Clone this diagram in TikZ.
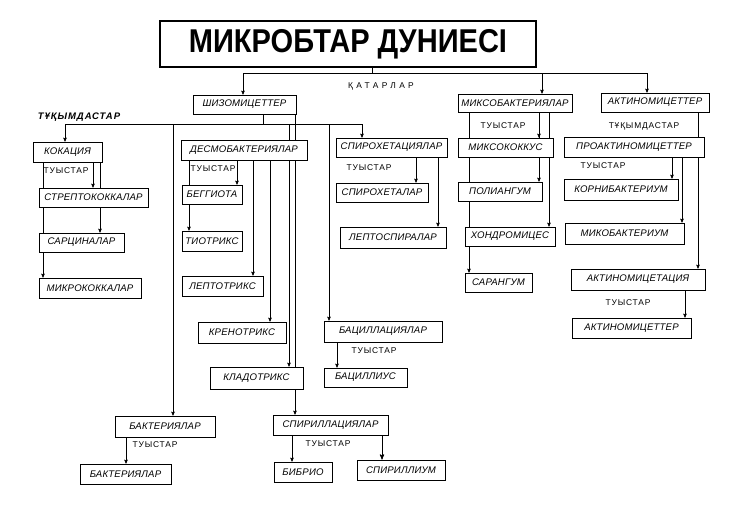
\documentclass[tikz,border=0pt]{standalone}
\usepackage{graphicx}
\usepackage{fontspec}
\setmainfont{Liberation Sans}
\newfontfamily\boxfont[LetterSpace=2]{Liberation Sans}
\newfontfamily\labfont[LetterSpace=10]{Liberation Sans}
\newfontfamily\wordfont[LetterSpace=40]{Liberation Sans}
\usepackage{tikz}
\usetikzlibrary{arrows}
\pgfdeclarelayer{bg}
\pgfsetlayers{bg,main}
\tikzset{
  box/.style={draw, line width=0.8pt, fill=white, inner sep=0pt, font=\boxfont\itshape\fontsize{9.6}{9.6}\selectfont},
  kind/.style={inner sep=0pt, font=\labfont\fontsize{8.4}{8.4}\selectfont},
  link/.style={line width=0.5pt},
}

\begin{document}
\begin{tikzpicture}[x=1pt, y=-1pt, >=stealth']
    \useasboundingbox (0,0) rectangle (741,509);
    % Titre
    \node[draw, line width=1.6pt, minimum width=376pt, minimum height=46pt, inner sep=0pt,
          font=\bfseries\fontsize{33}{33}\selectfont] (title) at (348,44) {\scalebox{0.88}[1]{МИКРОБТАР ДУНИЕСІ}};
    \node[inner sep=0pt, font=\wordfont\fontsize{8.4}{8.4}\selectfont] (orders) at (381,86) {ҚАТАРЛАР};
    % Катарлар
    \node[box, minimum width=103pt, minimum height=19pt] (shizo) at (244.5,104.5) {ШИЗОМИЦЕТТЕР};
    \node[box, minimum width=114pt, minimum height=18pt] (mikso) at (515,103) {МИКСОБАКТЕРИЯЛАР};
    \node[box, minimum width=108pt, minimum height=19pt] (aktino) at (655,102.5) {АКТИНОМИЦЕТТЕР};
    \node[inner sep=0pt, font=\labfont\bfseries\itshape\fontsize{9.5}{9.5}\selectfont] (fam) at (79,117) {ТҰҚЫМДАСТАР};
    % Кокация
    \node[box, minimum width=69pt, minimum height=20pt] (kok) at (67.5,152) {КОКАЦИЯ};
    \node[kind] (tkok) at (66,171) {ТУЫСТАР};
    \node[box, minimum width=109pt, minimum height=19pt] (strep) at (93.5,197.5) {СТРЕПТОКОККАЛАР};
    \node[box, minimum width=85pt, minimum height=19pt] (sarc) at (81.5,242.5) {САРЦИНАЛАР};
    \node[box, minimum width=102pt, minimum height=20pt] (mikrok) at (90,288) {МИКРОКОККАЛАР};
    % Десмобактериялар
    \node[box, minimum width=126pt, minimum height=20pt] (desmo) at (244,150) {ДЕСМОБАКТЕРИЯЛАР};
    \node[kind] (tdesmo) at (213,169) {ТУЫСТАР};
    \node[box, minimum width=60pt, minimum height=19pt] (beggi) at (212,194.5) {БЕГГИОТА};
    \node[box, minimum width=60pt, minimum height=20pt] (tiot) at (212,241) {ТИОТРИКС};
    \node[box, minimum width=81pt, minimum height=20pt] (lept) at (222.5,286) {ЛЕПТОТРИКС};
    \node[box, minimum width=88pt, minimum height=21pt] (kren) at (242,332.5) {КРЕНОТРИКС};
    \node[box, minimum width=93pt, minimum height=22pt] (clad) at (256.5,378) {КЛАДОТРИКС};
    % Спирохетациялар
    \node[box, minimum width=111pt, minimum height=19pt] (spiroh) at (391.5,147.5) {СПИРОХЕТАЦИЯЛАР};
    \node[kind] (tspiroh) at (369,168) {ТУЫСТАР};
    \node[box, minimum width=92pt, minimum height=19pt] (spirota) at (382,192.5) {СПИРОХЕТАЛАР};
    \node[box, minimum width=106pt, minimum height=21pt] (leptosp) at (393,237.5) {ЛЕПТОСПИРАЛАР};
    % Бациллациялар
    \node[box, minimum width=118pt, minimum height=21pt] (bacil) at (383,331.5) {БАЦИЛЛАЦИЯЛАР};
    \node[kind] (tbacil) at (374,351) {ТУЫСТАР};
    \node[box, minimum width=83pt, minimum height=19pt] (bacus) at (365.5,377.5) {БАЦИЛЛИУС};
    % Бактериялар
    \node[box, minimum width=100pt, minimum height=21pt] (bact) at (165,426.5) {БАКТЕРИЯЛАР};
    \node[kind] (tbact) at (155,445) {ТУЫСТАР};
    \node[box, minimum width=91pt, minimum height=20pt] (bact2) at (125.5,474) {БАКТЕРИЯЛАР};
    % Спириллациялар
    \node[box, minimum width=115pt, minimum height=20pt] (spiril) at (330.5,425) {СПИРИЛЛАЦИЯЛАР};
    \node[kind] (tspiril) at (328,444) {ТУЫСТАР};
    \node[box, minimum width=58pt, minimum height=20pt] (vibr) at (303,472) {БИБРИО};
    \node[box, minimum width=88pt, minimum height=20pt] (spirum) at (401,470) {СПИРИЛЛИУМ};
    % Миксобактериялар
    \node[kind] (tmikso) at (503,126) {ТУЫСТАР};
    \node[box, minimum width=95pt, minimum height=19pt] (miksok) at (505.5,147.5) {МИКСОКОККУС};
    \node[box, minimum width=84pt, minimum height=19pt] (polia) at (500,191.5) {ПОЛИАНГУМ};
    \node[box, minimum width=90pt, minimum height=19pt] (hondr) at (510,236.5) {ХОНДРОМИЦЕС};
    \node[box, minimum width=67pt, minimum height=19pt] (saran) at (498.5,282.5) {САРАНГУМ};
    % Актиномицеттер
    \node[kind] (faktino) at (644,126) {ТҰҚЫМДАСТАР};
    \node[box, minimum width=140pt, minimum height=20pt] (proakt) at (634,147) {ПРОАКТИНОМИЦЕТТЕР};
    \node[kind] (tproakt) at (603,166) {ТУЫСТАР};
    \node[box, minimum width=114pt, minimum height=21pt] (korni) at (621,189.5) {КОРНИБАКТЕРИУМ};
    \node[box, minimum width=119pt, minimum height=21pt] (mikob) at (624.5,233.5) {МИКОБАКТЕРИУМ};
    \node[box, minimum width=134pt, minimum height=21pt] (aktfam) at (638,279.5) {АКТИНОМИЦЕТАЦИЯ};
    \node[kind] (taktfam) at (628,303) {ТУЫСТАР};
    \node[box, minimum width=119pt, minimum height=20pt] (aktgen) at (631.5,328) {АКТИНОМИЦЕТТЕР};
    % Lignes
    \coordinate (qm) at (372,73);
    \coordinate (q1) at (243,73);
    \coordinate (q2) at (647,73);
    \coordinate (b1) at (65,124);
    \coordinate (b2) at (362,124);
    \begin{pgfonlayer}{bg}
    % катарлар
    \draw[link] (title.south -| qm) -- (qm);
    \draw[link] (q1) -- (q2);
    \draw[link, ->] (q1) -- (shizo.north -| q1);
    \draw[link, ->] (q1 -| 542,0) -- (mikso.north -| 542,0);
    \draw[link, ->] (q2) -- (aktino.north -| q2);
    % шизомицеттер
    \draw[link] (shizo.south -| 263,0) -- (b1 -| 263,0);
    \draw[link] (b1) -- (b2);
    \draw[link, ->] (b1) -- (kok.north -| b1);
    \draw[link, ->] (b1 -| 173,0) -- (bact.north -| 173,0);
    \draw[link, ->] (b1 -| 289,0) -- (clad.north -| 289,0);
    \draw[link, ->] (b1 -| 329,0) -- (bacil.north -| 329,0);
    \draw[link, ->] (b2) -- (spiroh.north -| b2);
    \draw[link, ->] (shizo.south -| 295,0) -- (spiril.north -| 295,0);
    % кокация
    \draw[link, ->] (kok.south -| 93,0) -- (strep.north -| 93,0);
    \draw[link, ->] (kok.south -| 100,0) -- (sarc.north -| 100,0);
    \draw[link, ->] (kok.south -| 43,0) -- (mikrok.north -| 43,0);
    % десмобактериялар
    \draw[link, ->] (desmo.south -| 237,0) -- (beggi.north -| 237,0);
    \draw[link, ->] (desmo.south -| 189,0) -- (tiot.north -| 189,0);
    \draw[link, ->] (desmo.south -| 253,0) -- (lept.north -| 253,0);
    \draw[link, ->] (desmo.south -| 270,0) -- (kren.north -| 270,0);
    % спирохетациялар
    \draw[link, ->] (spiroh.south -| 416,0) -- (spirota.north -| 416,0);
    \draw[link, ->] (spiroh.south -| 438,0) -- (leptosp.north -| 438,0);
    % бациллациялар, бактериялар, спириллациялар
    \draw[link, ->] (bacil.south -| 337,0) -- (bacus.north -| 337,0);
    \draw[link, ->] (bact.south -| 126,0) -- (bact2.north -| 126,0);
    \draw[link, ->] (spiril.south -| 292,0) -- (vibr.north -| 292,0);
    \draw[link, ->, line width=0.9pt] (spiril.south -| 382,0) -- (spirum.north -| 382,0);
    % миксобактериялар
    \draw[link, ->] (mikso.south -| 539,0) -- (miksok.north -| 539,0);
    \draw[link, ->] (mikso.south -| 539,0) -- (polia.north -| 539,0);
    \draw[link, ->] (mikso.south -| 549,0) -- (hondr.north -| 549,0);
    \draw[link, ->] (mikso.south -| 469,0) -- (saran.north -| 469,0);
    % актиномицеттер
    \draw[link, ->] (aktino.south -| 698,0) -- (aktfam.north -| 698,0);
    \draw[link, ->] (proakt.south -| 672,0) -- (korni.north -| 672,0);
    \draw[link, ->] (proakt.south -| 682,0) -- (mikob.north -| 682,0);
    \draw[link, ->] (aktfam.south -| 685,0) -- (aktgen.north -| 685,0);
    \end{pgfonlayer}
\end{tikzpicture}
\end{document}
